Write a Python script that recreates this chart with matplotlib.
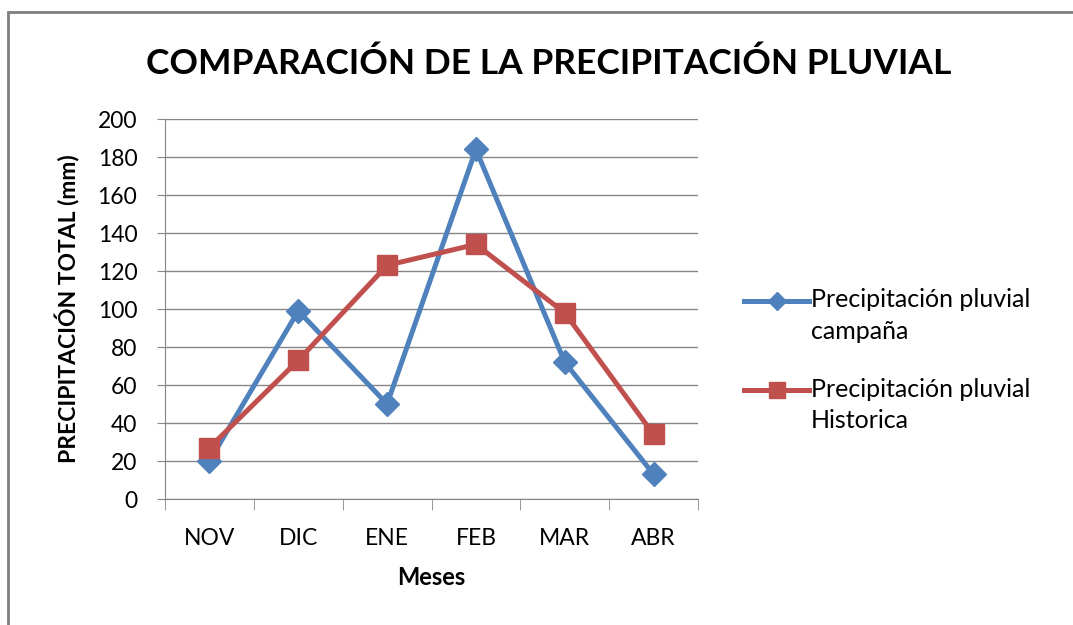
import matplotlib
matplotlib.use('Agg')
import matplotlib.pyplot as plt
from matplotlib.patches import Rectangle
from matplotlib.legend_handler import HandlerLine2D

# data
meses = ['NOV', 'DIC', 'ENE', 'FEB', 'MAR', 'ABR']
campana = [20, 99, 50, 184, 72, 13]
historica = [27, 73, 123, 134, 98, 34]

plt.rcParams['font.family'] = ['Lato', 'DejaVu Sans']


class FirstLineHandler(HandlerLine2D):
    # put the legend key beside the first text line, like Excel does
    def create_artists(self, legend, orig_handle, xdescent, ydescent,
                       width, height, fontsize, trans):
        arts = super().create_artists(legend, orig_handle, xdescent, ydescent,
                                      width, height, fontsize, trans)
        for a in arts:
            a.set_ydata([y + 0.62 * fontsize for y in a.get_ydata()])
        return arts


fig = plt.figure(figsize=(10.73, 6.25), dpi=100)
ax = fig.add_axes([0.1538, 0.2016, 0.4967, 0.608])

x = list(range(len(meses)))
l1, = ax.plot(x, campana, color='#4F81BD', lw=3.6, marker='D', ms=12,
              label='Precipitación pluvial\ncampaña', zorder=3)
l2, = ax.plot(x, historica, color='#C0504D', lw=3.6, marker='s', ms=15,
              label='Precipitación pluvial\nHistorica', zorder=3)

ax.set_xlim(-0.5, len(meses) - 0.5)
ax.set_ylim(0, 200)
ax.set_yticks(range(0, 201, 20))
ax.set_xticks(x)
ax.set_xticklabels(meses)
ax.set_xticks([i - 0.5 for i in range(len(meses) + 1)], minor=True)
ax.tick_params(axis='x', which='major', length=0, pad=21, labelsize=16.5)
ax.tick_params(axis='x', which='minor', length=8, color='#868686', direction='out')
ax.tick_params(axis='y', length=6, color='#868686', labelsize=16.5, pad=14)
ax.yaxis.grid(True, color='#868686', lw=1)
ax.set_axisbelow(True)
for s in ['top', 'right']:
    ax.spines[s].set_visible(False)
for s in ['left', 'bottom']:
    ax.spines[s].set_color('#868686')

ax.set_ylabel('PRECIPITACIÓN TOTAL (mm)', fontsize=16.5, fontweight='bold', labelpad=12)
ax.set_xlabel('Meses', fontsize=17, fontweight='bold', labelpad=12)

fig.text(0.511, 0.898, 'COMPARACIÓN DE LA PRECIPITACIÓN PLUVIAL', ha='center', va='center',
         fontsize=25.5, fontweight='bold')

leg = ax.legend(loc='center left', bbox_to_anchor=(1.045, 0.365), frameon=False,
                fontsize=18, handlelength=2.6, handletextpad=0.05, labelspacing=1.4,
                markerscale=0.8, handler_map={l1: FirstLineHandler(), l2: FirstLineHandler()})
for t in leg.get_texts():
    t.set_linespacing(1.45)

# chart border (only top and left are inside the picture)
fig.add_artist(Rectangle((0.0075, -0.05), 1.1, 1.031, transform=fig.transFigure,
                         fill=False, edgecolor='#7f7f7f', lw=2))

fig.savefig('out.png', dpi=100, facecolor='white')
